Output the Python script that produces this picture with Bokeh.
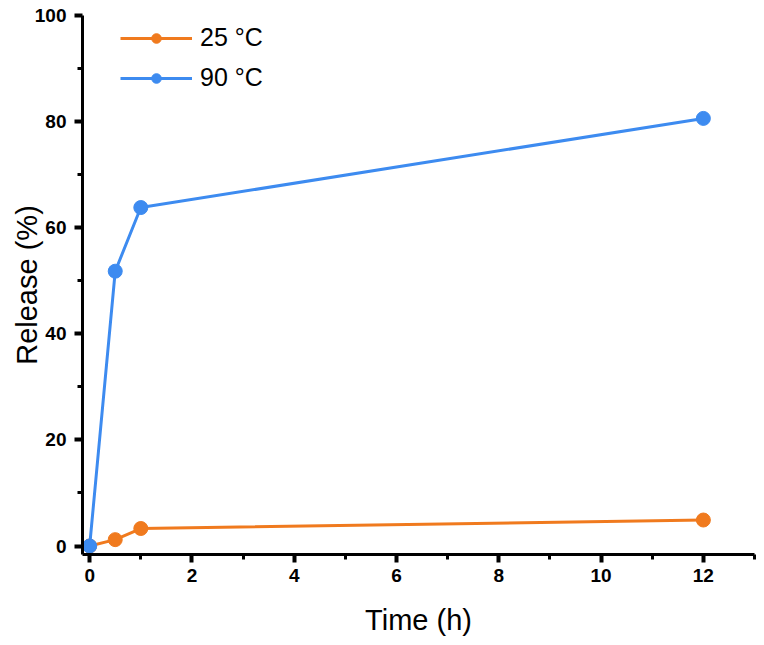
from bokeh.plotting import figure
from bokeh.models import Range1d, Legend, LegendItem, FixedTicker
from bokeh.embed import file_html
from bokeh.resources import INLINE

time_h = [0, 0.5, 1, 12]
release_25 = [0, 1.2, 3.3, 4.9]
release_90 = [0, 51.8, 63.8, 80.6]
x_ticks = [0, 2, 4, 6, 8, 10, 12]
y_ticks = [0, 20, 40, 60, 80, 100]

ORANGE = "#F07A1E"
BLUE = "#3D8BF0"
FONT = "Liberation Sans"

p = figure(width=757, height=638, output_backend="svg", toolbar_location=None,
           x_range=Range1d(-0.14, 13.0), y_range=Range1d(-1.6, 100))
p.min_border_left = 82
p.min_border_top = 15
p.min_border_right = 3
p.min_border_bottom = 81
p.outline_line_color = None
p.grid.visible = False
p.background_fill_color = "white"

l25 = p.line(time_h, release_25, line_color=ORANGE, line_width=3)
s25 = p.scatter(time_h, release_25, size=14, fill_color=ORANGE, line_color=ORANGE)
l90 = p.line(time_h, release_90, line_color=BLUE, line_width=3)
s90 = p.scatter(time_h, release_90, size=14, fill_color=BLUE, line_color=BLUE)

for ax in (p.xaxis[0], p.yaxis[0]):
    ax.axis_line_width = 3
    ax.axis_line_color = "black"
    ax.major_tick_line_width = 4
    ax.minor_tick_line_width = 3
    ax.major_tick_in = 0
    ax.major_tick_out = 8
    ax.minor_tick_in = 0
    ax.minor_tick_out = 5
    ax.major_label_text_font = FONT
    ax.major_label_text_font_style = "bold"
    ax.major_label_text_font_size = "19px"
    ax.major_label_text_color = "black"
    ax.axis_label_text_font = FONT
    ax.axis_label_text_font_style = "normal"
    ax.axis_label_text_font_size = "29px"
    ax.axis_label_text_color = "black"

p.xaxis.ticker = FixedTicker(ticks=x_ticks, minor_ticks=[1, 3, 5, 7, 9, 11, 13])
p.yaxis.ticker = FixedTicker(ticks=y_ticks, minor_ticks=[10, 30, 50, 70, 90])
p.xaxis.axis_label = "Time (h)"
p.yaxis.axis_label = "Release (%)"
p.xaxis.major_label_standoff = 6
p.yaxis.major_label_standoff = 8
p.xaxis.axis_label_standoff = 19
p.yaxis.axis_label_standoff = -11

legend = Legend(items=[LegendItem(label="25 \u00b0C", renderers=[l25, s25]),
                       LegendItem(label="90 \u00b0C", renderers=[l90, s90])],
                location=(38, 462))
legend.border_line_color = None
legend.background_fill_alpha = 0
legend.padding = 0
legend.margin = 0
legend.spacing = 11
legend.glyph_width = 72
legend.glyph_height = 24
legend.label_height = 24
legend.label_standoff = 8
legend.label_text_font = FONT
legend.label_text_font_size = "25px"
legend.label_text_color = "black"
p.add_layout(legend, "center")

open("out.html", "w").write(file_html(p, INLINE))
